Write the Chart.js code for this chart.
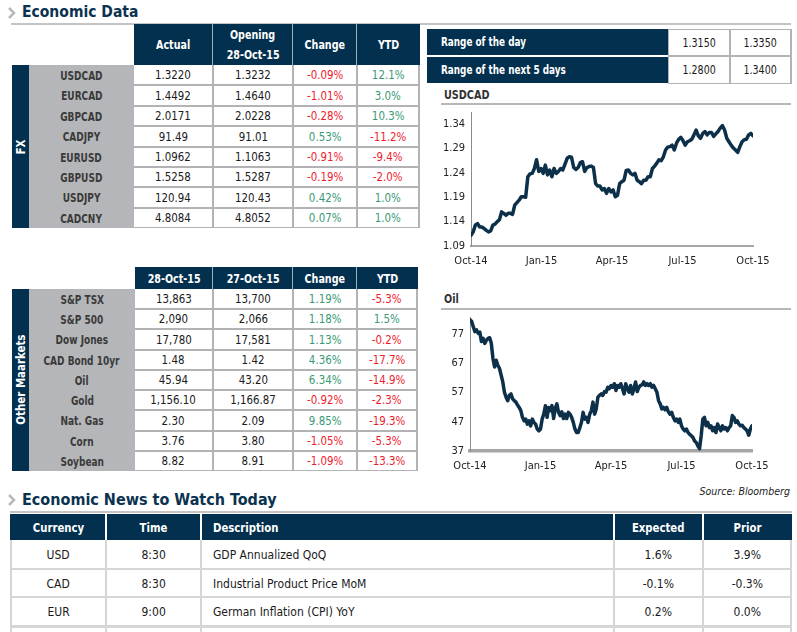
<!DOCTYPE html>
<html>
<head>
<meta charset="utf-8">
<script src="https://cdn.jsdelivr.net/npm/chart.js@4.4.0/dist/chart.umd.min.js"></script>
<style>
  html, body { margin:0; padding:0; background:#fff; }
  body { width:797px; height:632px; position:relative; overflow:hidden;
         font-family:'DejaVu Sans Condensed','DejaVu Sans',sans-serif; font-stretch:condensed; }
  .a { position:absolute; box-sizing:border-box; }
  .c { display:flex; align-items:center; justify-content:center; white-space:nowrap; }
  .navy { background:#03304e; color:#fff; font-weight:bold; }
  .title { color:#0b3350; font-weight:bold; white-space:nowrap; }
  canvas { position:absolute; }
  .sx { display:inline-block; white-space:nowrap; }
</style>
</head>
<body>
<script>
// ---------------- DATA ----------------
const fxPairs   = ['USDCAD','EURCAD','GBPCAD','CADJPY','EURUSD','GBPUSD','USDJPY','CADCNY'];
const fxActual  = ['1.3220','1.4492','2.0171','91.49','1.0962','1.5258','120.94','4.8084'];
const fxOpening = ['1.3232','1.4640','2.0228','91.01','1.1063','1.5287','120.43','4.8052'];
const fxChange  = ['-0.09%','-1.01%','-0.28%','0.53%','-0.91%','-0.19%','0.42%','0.07%'];
const fxYTD     = ['12.1%','3.0%','10.3%','-11.2%','-9.4%','-2.0%','1.0%','1.0%'];
const fxHeaders = ['Actual','Opening\n28-Oct-15','Change','YTD'];

const mktNames  = ['S&P TSX','S&P 500','Dow Jones','CAD Bond 10yr','Oil','Gold','Nat. Gas','Corn','Soybean'];
const mktToday  = ['13,863','2,090','17,780','1.48','45.94','1,156.10','2.30','3.76','8.82'];
const mktPrev   = ['13,700','2,066','17,581','1.42','43.20','1,166.87','2.09','3.80','8.91'];
const mktChange = ['1.19%','1.18%','1.13%','4.36%','6.34%','-0.92%','9.85%','-1.05%','-1.09%'];
const mktYTD    = ['-5.3%','1.5%','-0.2%','-17.7%','-14.9%','-2.3%','-19.3%','-5.3%','-13.3%'];
const mktHeaders = ['28-Oct-15','27-Oct-15','Change','YTD'];

const rangeLabels = ['Range of the day','Range of the next 5 days'];
const rangeLow    = ['1.3150','1.2800'];
const rangeHigh   = ['1.3350','1.3400'];

const newsHeaders  = ['Currency','Time','Description','Expected','Prior'];
const newsCurrency = ['USD','CAD','EUR'];
const newsTime     = ['8:30','8:30','9:00'];
const newsDesc     = ['GDP Annualized QoQ','Industrial Product Price MoM','German Inflation (CPI) YoY'];
const newsExpected = ['1.6%','-0.1%','0.2%'];
const newsPrior    = ['3.9%','-0.3%','0.0%'];

const quarterLabels = ['Oct-14','Jan-15','Apr-15','Jul-15','Oct-15'];
const usdcadTicks = [1.09,1.14,1.19,1.24,1.29,1.34];
const oilTicks    = [37,47,57,67,77];

const usdcadSeries = [1.112,1.119,1.133,1.136,1.129,1.129,1.126,1.122,1.119,1.121,1.133,1.135,1.140,1.144,1.160,1.157,1.153,1.157,1.157,1.155,
1.174,1.179,1.184,1.191,1.191,1.190,1.232,1.238,1.239,1.249,1.267,1.243,1.249,1.239,1.256,1.236,1.246,1.232,1.249,1.239,
1.243,1.249,1.246,1.258,1.270,1.273,1.272,1.251,1.247,1.251,1.261,1.263,1.243,1.251,1.253,1.254,1.251,1.218,1.213,1.213,
1.205,1.208,1.198,1.208,1.201,1.205,1.191,1.194,1.218,1.222,1.225,1.245,1.246,1.239,1.236,1.239,1.225,1.222,1.218,1.225,
1.225,1.232,1.232,1.249,1.254,1.260,1.267,1.265,1.273,1.287,1.293,1.294,1.297,1.287,1.301,1.309,1.313,1.306,1.297,1.304,
1.306,1.309,1.318,1.328,1.316,1.311,1.321,1.325,1.318,1.323,1.323,1.315,1.320,1.325,1.332,1.337,1.328,1.311,1.304,1.297,
1.291,1.287,1.282,1.294,1.304,1.308,1.309,1.318,1.321,1.316];

const oilSeries = [81.8,81.3,79.5,77.8,78.4,77.2,77.6,74.4,75.5,73.8,74.9,75.5,75.7,73.8,68.6,65.7,68.0,66.3,65.2,62.9,
60.6,57.1,55.4,54.2,56.0,56.5,54.8,54.2,53.7,52.7,51.9,50.8,48.5,47.3,47.9,46.2,47.3,45.6,47.9,46.8,
46.2,44.5,43.9,44.5,47.9,49.6,52.5,48.5,51.9,50.8,52.5,48.1,51.6,53.1,50.2,49.1,50.4,48.1,49.6,48.1,
50.2,49.6,48.5,46.8,44.5,43.3,43.3,45.0,46.8,50.2,47.9,48.5,46.8,49.6,50.8,53.7,49.6,51.4,55.4,56.0,
56.5,56.0,57.3,57.1,58.8,58.3,59.4,58.8,60.0,57.7,59.4,58.8,60.0,58.3,56.5,60.0,58.3,57.1,59.4,56.5,
58.3,60.6,57.3,58.8,59.4,59.6,60.6,59.4,60.0,59.4,60.0,58.8,59.4,58.3,57.1,54.2,53.1,51.4,51.9,51.1,
51.9,50.4,49.6,50.2,48.5,47.3,47.9,46.8,47.9,45.6,44.5,43.9,44.5,43.3,42.7,42.2,41.6,40.4,39.9,38.7,
37.8,42.2,47.9,48.5,45.6,46.8,45.0,45.6,43.9,45.0,43.3,46.2,45.0,43.9,45.6,44.5,45.0,43.9,45.0,45.6,
49.1,48.5,46.8,47.3,46.2,45.6,45.8,45.0,44.5,43.9,42.4,44.5,45.6];

// ---------------- LAYOUT HELPERS ----------------
const NAVY = '#03304e', GRAYCOL = '#b5b6b9', BORDER = '#b3b3b6', RED = '#ee1c2e', GREEN = '#3a9a76';
function esc(t) { return t.replace(/&/g,'&amp;').replace(/</g,'&lt;'); }
function el(x, y, w, h, cls, style, text, scale) {
  const d = document.createElement('div');
  d.className = 'a ' + (cls || '');
  d.style.left = x + 'px'; d.style.top = y + 'px';
  d.style.width = w + 'px'; d.style.height = h + 'px';
  if (style) Object.assign(d.style, style);
  if (text !== undefined) {
    const left = style && style.justifyContent === 'flex-start';
    const wrap = t => scale ? '<span class="sx" style="transform:scaleX(' + scale + ');transform-origin:' + (left ? 'left' : 'center') + ' center">' + esc(t) + '</span>' : esc(t);
    if (text.indexOf('\n') >= 0) { d.style.flexDirection = 'column'; d.innerHTML = text.split('\n').map(t => '<div style="line-height:20px">' + wrap(t) + '</div>').join(''); }
    else d.innerHTML = wrap(text);
  }
  document.body.appendChild(d);
  return d;
}
function pctColor(s) { return s.trim().charAt(0) === '-' ? RED : GREEN; }

function marketTable(opts) {
  const { headTop, headBottom, rowTop, rowBottom, names, cols, headers, stripLabel, colEdges } = opts;
  el(colEdges[0], headTop, colEdges[colEdges.length-1] - colEdges[0], headBottom - headTop, 'navy', null);
  headers.forEach((h, j) => {
    el(colEdges[j], headTop, colEdges[j+1] - colEdges[j], headBottom - headTop, 'c', { color:'#fff', fontWeight:'bold', fontSize:'12.5px' }, h, 0.85);
    if (j > 0) el(colEdges[j]-1, headTop, 1, headBottom - headTop, '', { background:'#9fb0bf' });
  });
  el(12, rowTop, 17, rowBottom - rowTop, '', { background: NAVY });
  el(12 + 8.5 - 60, (rowTop + rowBottom)/2 - 8, 120, 16, 'c', { color:'#fff', fontWeight:'bold', fontSize:'12px', transform:'rotate(-90deg)' }, stripLabel, 0.95);
  el(29, rowTop, colEdges[0] - 29, rowBottom - rowTop, '', { background: GRAYCOL });
  el(colEdges[0], rowTop, colEdges[colEdges.length-1] - colEdges[0], rowBottom - rowTop, '', { background: BORDER });
  const n = names.length, rh = (rowBottom - rowTop) / n;
  for (let i = 0; i < n; i++) {
    const y0 = Math.round(rowTop + i*rh), y1 = Math.round(rowTop + (i+1)*rh);
    el(29, y0, colEdges[0] - 29, y1 - y0, 'c', { color:'#3a3a3a', fontWeight:'bold', fontSize:'12.5px' }, names[i], 0.8);
    cols.forEach((col, j) => {
      const x0 = colEdges[j] + (j === 0 ? 0 : 1), x1 = colEdges[j+1] - (j === cols.length-1 ? 2 : 1);
      const isPct = j >= 2;
      el(x0, y0 + (i === 0 ? 0 : 1), x1 - x0, y1 - y0 - (i === 0 ? 1 : 2), 'c',
         { background:'#fff', fontSize:'12px', color: isPct ? pctColor(col[i]) : '#1a1a1a' }, col[i], 0.95);
    });
  }
}

function chevron(x, y) {
  const d = el(x, y, 10, 14, '', null);
  d.innerHTML = '<svg width="10" height="14"><polyline points="2,2 7,7 2,12" fill="none" stroke="#b8b8b8" stroke-width="2.5"/></svg>';
}
chevron(7, 5);
el(22, 1, 200, 22, 'title c', { fontSize:'15.5px', justifyContent:'flex-start' }, 'Economic Data');
el(11, 23, 780, 1.5, '', { background:'#c4c4c4' });

marketTable({ headTop:24, headBottom:65, rowTop:65, rowBottom:228, names:fxPairs,
  cols:[fxActual, fxOpening, fxChange, fxYTD], headers:fxHeaders, stripLabel:'FX', colEdges:[134,213,293,357,420] });
marketTable({ headTop:267, headBottom:289, rowTop:289, rowBottom:471, names:mktNames,
  cols:[mktToday, mktPrev, mktChange, mktYTD], headers:mktHeaders, stripLabel:'Other Maarkets', colEdges:[135,213,293,357,418] });

// range table
el(427, 29, 241, 54, '', { background: NAVY });
el(427, 55, 241, 1.5, '', { background:'#ffffff' });
el(668, 29, 124, 55, '', { background: BORDER });
rangeLabels.forEach((t, i) => {
  const y0 = i === 0 ? 29 : 56, y1 = i === 0 ? 55 : 83;
  el(441, y0, 220, y1 - y0, 'c', { justifyContent:'flex-start', color:'#fff', fontWeight:'bold', fontSize:'12px' }, t, 0.82);
  el(669, y0 + 1, 60, y1 - y0 - 1, 'c', { background:'#fff', fontSize:'11.5px', color:'#1a1a1a' }, rangeLow[i], 0.92);
  el(731, y0 + 1, 59, y1 - y0 - 1, 'c', { background:'#fff', fontSize:'11.5px', color:'#1a1a1a' }, rangeHigh[i], 0.92);
});

// chart titles
el(444, 86, 120, 16, 'c', { justifyContent:'flex-start', color:'#333', fontWeight:'bold', fontSize:'12.5px' }, 'USDCAD', 0.86);
el(441, 103, 350, 2, '', { background:'#b7b7b7' });
el(444, 290, 120, 16, 'c', { justifyContent:'flex-start', color:'#333', fontWeight:'bold', fontSize:'12.5px' }, 'Oil', 0.86);
el(441, 308, 350, 2, '', { background:'#b7b7b7' });
el(600, 484, 190, 14, 'c', { justifyContent:'flex-end', fontStyle:'italic', fontSize:'10.5px', color:'#222', fontStretch:'normal' }, 'Source: Bloomberg');

// news section
chevron(7, 492);
el(22, 487, 320, 24, 'title c', { fontSize:'16px', justifyContent:'flex-start' }, 'Economic News to Watch Today');
el(10, 511, 782, 1.5, '', { background:'#c4c4c4' });
const newsEdges = [10,106,201,614,703,792];
el(10, 514, 782, 26, '', { background: NAVY });
newsHeaders.forEach((h, j) => {
  const st = { color:'#fff', fontWeight:'bold', fontSize:'12.5px' };
  if (j === 2) { st.justifyContent = 'flex-start'; st.paddingLeft = '12px'; }
  el(newsEdges[j], 514, newsEdges[j+1] - newsEdges[j], 26, 'c', st, h, 0.9);
  if (j > 0) el(newsEdges[j]-1, 514, 2, 26, '', { background:'#ffffff' });
});
el(10, 540, 782, 92, '', { background:'#d6d6d6' });
const newsCols = [newsCurrency, newsTime, newsDesc, newsExpected, newsPrior];
const newsRows = [540, 569, 597, 626];
for (let i = 0; i < 3; i++) {
  newsCols.forEach((col, j) => {
    const st = { background:'#fff', fontSize:'12.5px', color:'#1a1a1a' };
    if (j === 2) { st.justifyContent = 'flex-start'; st.paddingLeft = '11px'; }
    const x0 = newsEdges[j] + (j === 0 ? 2 : 1), x1 = newsEdges[j+1] - (j === 4 ? 2 : 1);
    el(x0, newsRows[i] + (i === 0 ? 0 : 1), x1 - x0, newsRows[i+1] - newsRows[i] - (i === 0 ? 1 : 2), 'c', st, col[i], 0.96);
  });
}
for (let j = 0; j < 5; j++) {
  const x0 = newsEdges[j] + (j === 0 ? 2 : 1), x1 = newsEdges[j+1] - (j === 4 ? 2 : 1);
  el(x0, 628, x1 - x0, 10, '', { background:'#fff' });
}

// ---------------- CHARTS ----------------
Chart.defaults.font.family = "'DejaVu Sans Condensed','DejaVu Sans',sans-serif";
Chart.defaults.color = '#222';
function makeChart(left, top, series, yTicks, yMin, yMax, dec, xBorderW) {
  const c = document.createElement('canvas');
  c.width = 345; c.height = 168;
  c.style.left = left + 'px'; c.style.top = top + 'px';
  document.body.appendChild(c);
  const n = series.length;
  new Chart(c, {
    type: 'line',
    data: { datasets: [{ data: series.map((v, i) => ({ x: i, y: v })), borderColor:'#0c3049', borderWidth:3.5,
      pointRadius:0, tension:0, fill:false, borderJoinStyle:'round', borderCapStyle:'round' }] },
    options: {
      responsive:false, animation:false, devicePixelRatio:1,
      layout: { padding: { top:6, right:22, left:0, bottom:0 } },
      plugins: { legend:{ display:false }, tooltip:{ enabled:false } },
      scales: {
        x: { type:'linear', min:0, max:n-1,
             grid:{ display:false, drawTicks:false },
             border:{ display:true, color:'#a6a6a6', width:xBorderW },
             ticks:{ padding:9, font:{ size:11 }, color:'#222', maxRotation:0, autoSkip:false,
                     callback:(v, i) => quarterLabels[i] },
             afterBuildTicks: s => { s.ticks = quarterLabels.map((_, k) => ({ value: k*(n-1)/4 })); },
             afterFit: s => { s.height = 28; s.paddingLeft = 0; s.paddingRight = 0; } },
        y: { type:'linear', min:yMin, max:yMax,
             grid:{ display:false, drawTicks:false },
             border:{ display:true, color:'#8c8c8c', width:1 },
             ticks:{ padding:6, font:{ size:11 }, color:'#222', callback: v => Number(v).toFixed(dec) },
             afterBuildTicks: s => { s.ticks = yTicks.map(v => ({ value:v })); },
             afterFit: s => { s.width = 41; s.paddingTop = 0; s.paddingBottom = 0; } }
      }
    }
  });
}
makeChart(430, 106, usdcadSeries, usdcadTicks, 1.09, 1.365, 2, 2);
makeChart(429, 311, oilSeries, oilTicks, 37, 82.8, 0, 3.5);
</script>
</body>
</html>
